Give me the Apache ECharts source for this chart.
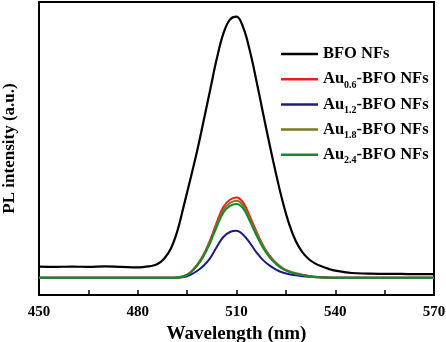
<!DOCTYPE html>
<html>
<head>
<meta charset="utf-8">
<script src="https://cdn.jsdelivr.net/npm/echarts@6/dist/echarts.min.js"></script>
<style>
  html, body { margin: 0; padding: 0; background: #fff; }
  #chart { width: 446px; height: 342px; }
</style>
</head>
<body>
<div id="chart"></div>
<script>
// wavelength grid (nm)
const wavelengths = [450, 455, 460, 465, 470, 475, 480,
  482, 484, 486, 488, 490, 492, 494, 496, 498, 500, 502, 504, 506, 508, 510,
  512, 514, 516, 518, 520, 522, 524, 526, 528, 530, 532, 534, 536, 538, 540,
  545, 550, 555, 560, 565, 570];

const bfo = [9.7, 9.6, 9.7, 9.6, 9.8, 9.6, 9.4,
  9.6, 9.9, 10.6, 12.4, 15.7, 21.7, 30.5, 39.6, 49.0, 59.4, 70.0, 80.6, 89.2, 94.0, 95.0,
  91.4, 83.6, 73.4, 62.4, 51.6, 41.4, 32.0, 24.2, 18.4, 14.6, 12.2, 10.7, 9.7, 8.9, 8.3,
  7.5, 7.3, 7.2, 7.2, 7.1, 7.1];

const au06 = [5.9, 5.9, 5.9, 5.9, 5.9, 5.9, 5.9,
  5.9, 5.9, 5.9, 5.9, 5.9, 6.0, 6.4, 7.8, 10.3, 13.8, 18.8, 24.8, 30.0, 32.5, 33.3,
  31.6, 27.0, 21.8, 17.1, 13.5, 11.0, 9.2, 8.1, 7.4, 6.9, 6.5, 6.2, 6.1, 6.0, 5.9,
  5.9, 5.9, 5.9, 5.9, 5.9, 5.9];

const au12 = [5.9, 5.9, 5.9, 5.9, 5.9, 5.9, 5.9,
  5.9, 5.9, 5.9, 5.9, 5.9, 5.9, 6.1, 6.9, 8.2, 10.0, 12.6, 16.4, 19.8, 21.5, 21.9,
  20.6, 17.9, 14.6, 12.0, 10.1, 8.7, 7.7, 7.1, 6.7, 6.4, 6.2, 6.1, 6.0, 5.9, 5.9,
  5.9, 5.9, 5.9, 5.9, 5.9, 5.9];

const au18 = [5.9, 5.9, 5.9, 5.9, 5.9, 5.9, 5.9,
  5.9, 5.9, 5.9, 5.9, 5.9, 6.0, 6.4, 7.7, 10.1, 13.5, 18.3, 24.1, 29.0, 31.4, 32.2,
  30.6, 26.1, 21.1, 16.7, 13.2, 10.8, 9.0, 8.0, 7.3, 6.8, 6.4, 6.2, 6.0, 5.9, 5.9,
  5.9, 5.9, 5.9, 5.9, 5.9, 5.9];

const au24 = [5.9, 5.9, 5.9, 5.9, 5.9, 5.9, 5.9,
  5.9, 5.9, 5.9, 5.9, 5.9, 6.0, 6.4, 7.6, 9.9, 13.2, 17.8, 23.3, 28.1, 30.4, 31.1,
  29.6, 25.3, 20.5, 16.2, 12.9, 10.6, 8.9, 7.9, 7.2, 6.8, 6.4, 6.1, 6.0, 5.9, 5.9,
  5.9, 5.9, 5.9, 5.9, 5.9, 5.9];

const seriesNames = ['BFO NFs', 'Au0.6-BFO NFs', 'Au1.2-BFO NFs', 'Au1.8-BFO NFs', 'Au2.4-BFO NFs'];
const seriesColors = ['#000000', '#ee1c1c', '#1c1c84', '#7d7a1a', '#138a32'];
const seriesValues = [bfo, au06, au12, au18, au24];

const FONT = '"Liberation Serif", "Times New Roman", serif';

// "Au0.6-BFO NFs" -> Au with subscript 0.6
function legendLabel(name) {
  const m = name.match(/^Au([\d.]+)(-.*)$/);
  if (!m) return '{a|' + name + '}{s| }';
  return '{a|Au}{s|' + m[1] + '}{a|' + m[2] + '}';
}

const chart = echarts.init(document.getElementById('chart'));

chart.setOption({
  animation: false,
  grid: {
    left: 39, right: 12, top: 2, bottom: 47,
    outerBoundsMode: 'none',
    containLabel: false,
    show: true, borderColor: '#000', borderWidth: 2,
  },
  legend: {
    orient: 'vertical',
    left: 281,
    top: 45.5,
    padding: 0,
    icon: 'rect',
    itemWidth: 37,
    itemHeight: 2.5,
    itemGap: 5.7,
    data: seriesNames,
    formatter: legendLabel,
    textStyle: {
      rich: {
        a: { fontFamily: FONT, fontWeight: 'bold', fontSize: 16.5, color: '#000', lineHeight: 22 },
        s: { fontFamily: FONT, fontWeight: 'bold', fontSize: 10, color: '#000', lineHeight: 10, verticalAlign: 'bottom' },
      },
    },
  },
  xAxis: {
    type: 'value',
    min: 450,
    max: 570,
    interval: 30,
    name: 'Wavelength (nm)',
    nameLocation: 'middle',
    nameGap: 23,
    nameTextStyle: { fontFamily: FONT, fontWeight: 'bold', fontSize: 19, color: '#000' },
    axisLine: { show: true, lineStyle: { color: '#000', width: 2 } },
    axisTick: { show: true, inside: true, length: 5, lineStyle: { color: '#000', width: 1.5 } },
    minorTick: { show: true, splitNumber: 2, length: 5, lineStyle: { color: '#000', width: 1.5 } },
    axisLabel: { fontFamily: FONT, fontWeight: 'bold', fontSize: 15, color: '#000', margin: 10 },
    splitLine: { show: false },
  },
  yAxis: {
    type: 'value',
    min: 0,
    max: 100,
    name: 'PL intensity (a.u.)',
    nameLocation: 'middle',
    nameGap: 21,
    nameTextStyle: { fontFamily: FONT, fontWeight: 'bold', fontSize: 17, color: '#000' },
    axisLine: { show: true, lineStyle: { color: '#000', width: 2 } },
    axisTick: { show: false },
    axisLabel: { show: false },
    splitLine: { show: false },
  },
  series: seriesNames.map((name, i) => ({
    name,
    type: 'line',
    data: wavelengths.map((w, j) => [w, seriesValues[i][j]]),
    smooth: 0.4,
    symbol: 'none',
    color: seriesColors[i],
    lineStyle: { width: i === 0 ? 2.2 : 2, color: seriesColors[i] },
  })),
});
</script>
</body>
</html>
